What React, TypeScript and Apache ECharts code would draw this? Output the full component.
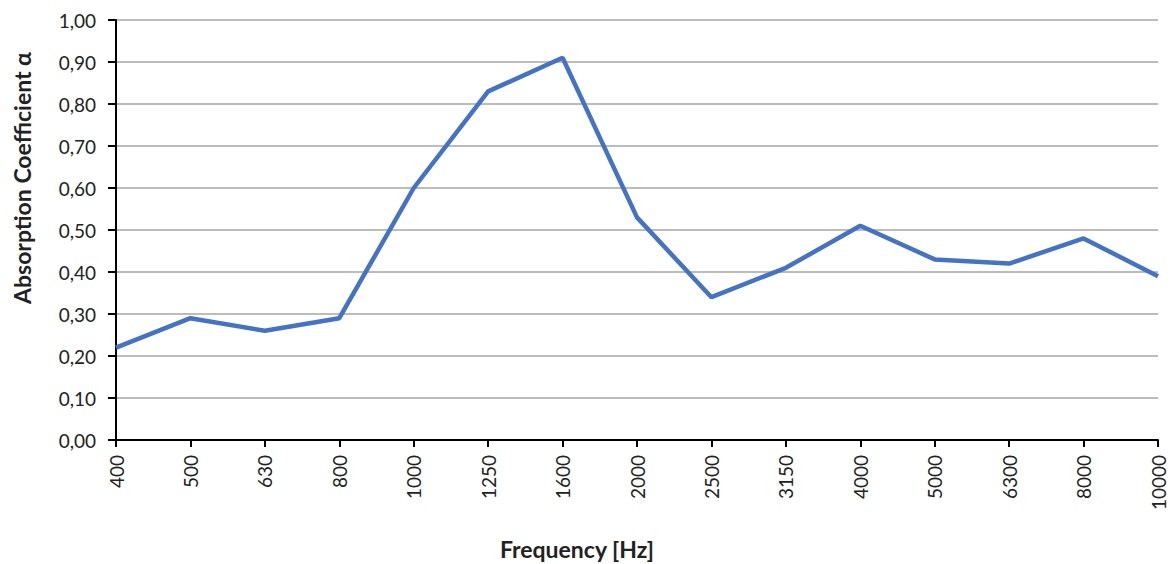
import React, { useEffect, useRef } from "react";
import * as echarts from "echarts";

const frequencies = ["400", "500", "630", "800", "1000", "1250", "1600", "2000", "2500", "3150", "4000", "5000", "6300", "8000", "10000"];
const absorption = [0.22, 0.29, 0.26, 0.29, 0.6, 0.83, 0.91, 0.53, 0.34, 0.41, 0.51, 0.43, 0.42, 0.48, 0.39];
const xTitle = "Frequency [Hz]";
const yTitle = "Absorption Coefficient α";

const FONT = "Lato";

export default function App() {
  const ref = useRef<HTMLDivElement>(null);
  useEffect(() => {
    document.body.style.margin = "0";
    document.body.style.overflow = "hidden";
    const chart = echarts.init(ref.current!, null, { renderer: "svg", width: 1172, height: 564 });
    chart.setOption({
      animation: false,
      backgroundColor: "#ffffff",
      grid: { left: 116, right: 14, top: 20, bottom: 124, containLabel: false, outerBoundsMode: "none" },
      graphic: [
        {
          type: "text",
          x: 577,
          y: 549,
          style: {
            text: xTitle,
            font: `bold 23px ${FONT}`,
            fill: "#222",
            textAlign: "center",
            textVerticalAlign: "middle",
          },
        },
        {
          type: "text",
          x: 22,
          y: 178,
          rotation: Math.PI / 2,
          style: {
            text: yTitle,
            font: `bold 23px ${FONT}`,
            fill: "#222",
            textAlign: "center",
            textVerticalAlign: "middle",
          },
        },
      ],
      xAxis: {
        type: "category",
        data: frequencies,
        boundaryGap: false,
        axisLine: { lineStyle: { color: "#000", width: 2 } },
        axisTick: { show: true, alignWithLabel: true, length: 7, lineStyle: { color: "#000", width: 2 } },
        axisLabel: { rotate: 90, fontFamily: FONT, fontSize: 19, color: "#222", margin: 15, interval: 0 },
        splitLine: { show: false },
      },
      yAxis: {
        type: "value",
        min: 0,
        max: 1,
        interval: 0.1,
        axisLine: { show: true, lineStyle: { color: "#000", width: 2 } },
        axisTick: { show: true, length: 8, lineStyle: { color: "#000", width: 2 } },
        axisLabel: {
          fontFamily: FONT,
          fontSize: 19,
          color: "#222",
          margin: 20,
          formatter: (v: number) => v.toFixed(2).replace(".", ","),
        },
        splitLine: { lineStyle: { color: "#a6a6a6", width: 1.5 } },
      },
      series: [
        {
          type: "line",
          data: absorption,
          symbol: "none",
          lineStyle: { color: "#4472C4", width: 4.5 },
        },
      ],
    });
    return () => chart.dispose();
  }, []);
  return <div ref={ref} style={{ position: "fixed", left: 0, top: 0, width: 1172, height: 564 }} />;
}
